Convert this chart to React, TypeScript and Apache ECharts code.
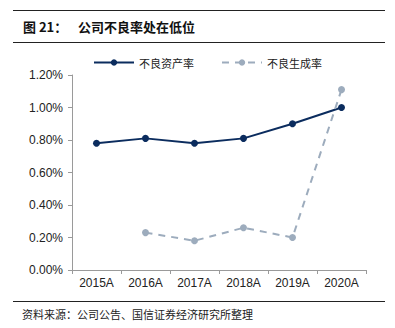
import React, { useEffect, useRef } from "react";
import * as echarts from "echarts";

const categories = ["2015A", "2016A", "2017A", "2018A", "2019A", "2020A"];
const nplRatio = [0.78, 0.81, 0.78, 0.81, 0.9, 1.0];
const nplFormation: (number | null)[] = [null, 0.23, 0.18, 0.26, 0.2, 1.11];
const yTicks = { min: 0, max: 1.2, interval: 0.2 };

const NAVY = "#0b2c5e";
const GRAY = "#9dacbd";

export default function App() {
  const ref = useRef<HTMLDivElement>(null);
  useEffect(() => {
    if (!ref.current) return;
    const chart = echarts.init(ref.current, undefined, { renderer: "svg" });
    const font = "Liberation Sans, Arial, sans-serif";
    const cjk = "Noto Sans CJK SC, sans-serif";
    chart.setOption({
      animation: false,
      backgroundColor: "#fff",
      grid: { left: 72, right: 29, top: 75, bottom: 58, containLabel: false },
      legend: {
        top: 52,
        left: 88,
        itemWidth: 40,
        itemHeight: 8,
        itemGap: 27,
        textStyle: { fontFamily: cjk, fontSize: 11, color: "#222" },
        data: ["不良资产率", "不良生成率"],
      },
      xAxis: {
        type: "category",
        data: categories,
        boundaryGap: true,
        axisLine: { lineStyle: { color: "#9a9a9a", width: 1 } },
        axisTick: { show: true, length: 4, lineStyle: { color: "#9a9a9a" } },
        axisLabel: { fontFamily: font, fontSize: 12, color: "#222", margin: 7 },
        splitLine: { show: false },
      },
      yAxis: {
        type: "value",
        min: yTicks.min,
        max: yTicks.max,
        interval: yTicks.interval,
        axisLine: { show: true, lineStyle: { color: "#9a9a9a", width: 1 } },
        axisTick: { show: true, length: 4, lineStyle: { color: "#9a9a9a" } },
        axisLabel: {
          fontFamily: font,
          fontSize: 12,
          color: "#222",
          margin: 9,
          formatter: (v: number) => v.toFixed(2) + "%",
        },
        splitLine: { show: false },
      },
      series: [
        {
          name: "不良资产率",
          type: "line",
          data: nplRatio,
          symbol: "circle",
          symbolSize: 7,
          lineStyle: { color: NAVY, width: 2 },
          itemStyle: { color: NAVY },
        },
        {
          name: "不良生成率",
          type: "line",
          data: nplFormation,
          symbol: "circle",
          symbolSize: 7,
          lineStyle: { color: GRAY, width: 2, type: [7, 6] },
          itemStyle: { color: GRAY },
        },
      ],
      graphic: [
        { type: "line", shape: { x1: 13, y1: 10.5, x2: 385, y2: 10.5 }, style: { stroke: "#222", lineWidth: 1 } },
        { type: "line", shape: { x1: 13, y1: 42.5, x2: 385, y2: 42.5 }, style: { stroke: "#222", lineWidth: 1 } },
        { type: "line", shape: { x1: 13, y1: 301.5, x2: 385, y2: 301.5 }, style: { stroke: "#222", lineWidth: 1 } },
        {
          type: "text",
          x: 23,
          y: 26,
          style: { text: "图 21：", fontFamily: cjk, fontSize: 13, fontWeight: "bold", fill: "#111", verticalAlign: "middle" },
        },
        {
          type: "text",
          x: 78,
          y: 26,
          style: { text: "公司不良率处在低位", fontFamily: cjk, fontSize: 13, fontWeight: "bold", fill: "#111", verticalAlign: "middle" },
        },
        {
          type: "text",
          x: 22,
          y: 314,
          style: { text: "资料来源：公司公告、国信证券经济研究所整理", fontFamily: cjk, fontSize: 11, fill: "#222", verticalAlign: "middle" },
        },
      ],
    });
    return () => chart.dispose();
  }, []);
  return <div ref={ref} style={{ width: 395, height: 328, position: "absolute", left: 0, top: 0 }} />;
}
